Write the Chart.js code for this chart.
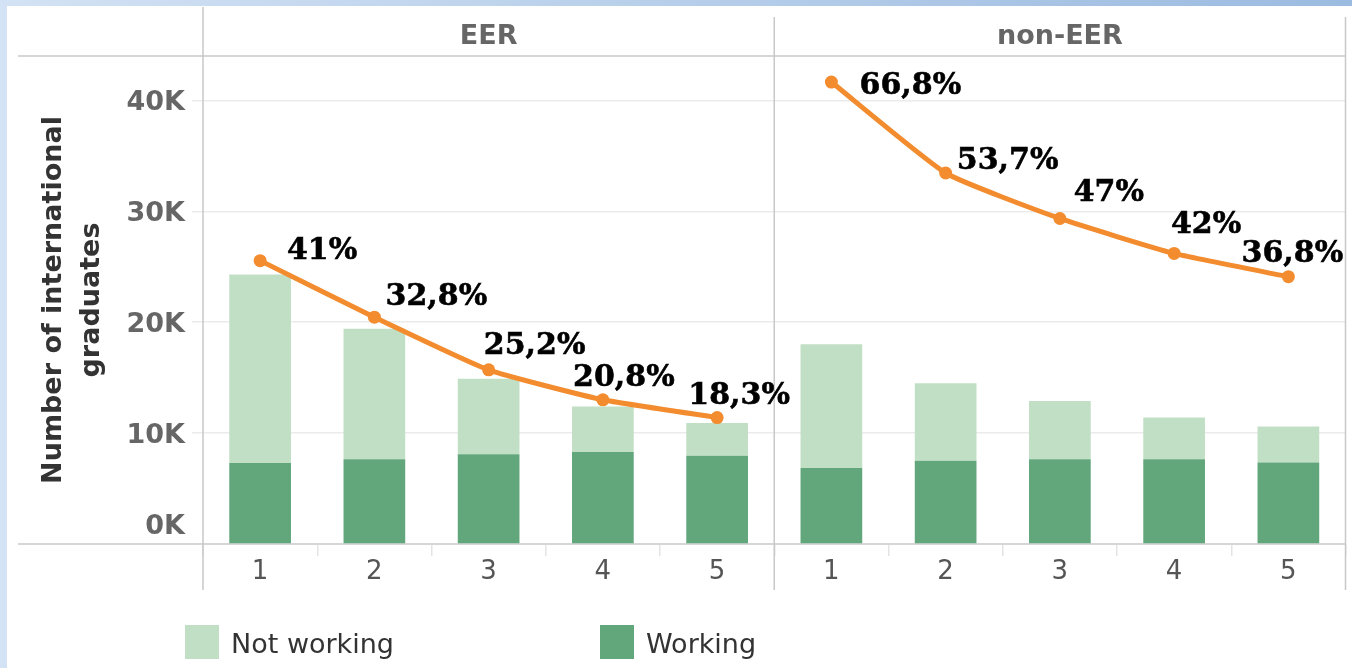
<!DOCTYPE html>
<html>
<head>
<meta charset="utf-8">
<script src="https://cdn.jsdelivr.net/npm/chart.js@4.4.0/dist/chart.umd.min.js"></script>
<style>
  html, body { margin: 0; padding: 0; }
  body {
    width: 1352px; height: 668px; overflow: hidden; position: relative;
    background: linear-gradient(to right, #d3e2f4, #9bbbe0);
  }
  #wrap { position: absolute; left: 7px; top: 6px; width: 1345px; height: 662px; background: #fff; }
</style>
</head>
<body>
<div id="wrap"><canvas id="graph" width="1345" height="662"></canvas></div>
<script>
var panels = ["EER", "non-EER"];
var years = ["1", "2", "3", "4", "5"];
var yTicks = [0, 10000, 20000, 30000, 40000];
var workingEER = [7300, 7650, 8100, 8300, 7950];
var notWorkingEER = [17000, 11750, 6800, 4100, 2950];
var workingNonEER = [6850, 7500, 7650, 7650, 7350];
var notWorkingNonEER = [11150, 7000, 5250, 3750, 3250];
var lineEER = [25550, 20450, 15700, 13000, 11400];
var lineNonEER = [41650, 33450, 29350, 26200, 24100];
var shareEER = ["41%", "32,8%", "25,2%", "20,8%", "18,3%"];
var shareNonEER = ["66,8%", "53,7%", "47%", "42%", "36,8%"];

// nudges for the % labels (label centre relative to its point), per panel
var labelShift = [
  [[62, -13], [62, -23], [46, -27], [21, -25], [22, -25]],
  [[79, 1], [62, -15], [49, -28], [32, -31], [4, -26]]
];

var lightGreen = "#c1dfc5";
var darkGreen = "#62a67b";
var orange = "#f28c2e";
var gap = [null, null, null, null, null];

Chart.defaults.font.family = "'DejaVu Sans', Verdana, sans-serif";

function kLabel(v) { return (v / 1000) + "K"; }

var framePlugin = {
  id: "frame",
  beforeDatasetsDraw: function (chart) {
    var ctx = chart.ctx, area = chart.chartArea, x = chart.scales.x, y = chart.scales.y;
    var split = (x.getPixelForValue(4) + x.getPixelForValue(5)) / 2;
    ctx.save();
    ctx.strokeStyle = "#d6d6d6";
    ctx.lineWidth = 2;
    ctx.beginPath();
    ctx.moveTo(11, area.top); ctx.lineTo(area.right, area.top);
    ctx.moveTo(11, area.bottom); ctx.lineTo(area.right, area.bottom);
    ctx.stroke();
    ctx.strokeStyle = "#c8c8c8";
    ctx.lineWidth = 1.5;
    ctx.beginPath();
    ctx.moveTo(area.left, 1); ctx.lineTo(area.left, area.bottom + 46);
    ctx.moveTo(split, 11); ctx.lineTo(split, area.bottom + 46);
    ctx.moveTo(area.right, 11); ctx.lineTo(area.right, area.bottom + 46);
    ctx.stroke();
    ctx.fillStyle = "#666";
    ctx.font = "bold 27px 'DejaVu Sans'";
    ctx.textAlign = "center";
    ctx.textBaseline = "alphabetic";
    ctx.fillText(panels[0], (area.left + split) / 2, area.top - 12);
    ctx.fillText(panels[1], (split + area.right) / 2, area.top - 12);
    // the zero label sits above the axis line
    ctx.textAlign = "right";
    ctx.textBaseline = "middle";
    ctx.fillText(kLabel(yTicks[0]), area.left - 18, y.getPixelForValue(yTicks[0]) - 17);
    ctx.restore();
  },
  afterDatasetsDraw: function (chart) {
    var ctx = chart.ctx;
    ctx.save();
    ctx.font = "bold 30px 'DejaVu Serif'";
    ctx.fillStyle = "#000";
    ctx.strokeStyle = "#000";
    ctx.lineWidth = 0.6;
    ctx.textAlign = "center";
    ctx.textBaseline = "alphabetic";
    [[2, shareEER], [3, shareNonEER]].forEach(function (pair, p) {
      var meta = chart.getDatasetMeta(pair[0]);
      var values = chart.data.datasets[pair[0]].data;
      var k = 0;
      meta.data.forEach(function (pt, i) {
        if (values[i] === null) return;
        var txt = pair[1][k];
        var sx = pt.x + labelShift[p][k][0], sy = pt.y + labelShift[p][k][1] + 11;
        ctx.fillText(txt, sx, sy);
        ctx.strokeText(txt, sx, sy);
        k++;
      });
    });
    ctx.restore();
  },
  afterDraw: function (chart) {
    var ctx = chart.ctx;
    var items = [
      { label: chart.data.datasets[1].label, color: chart.data.datasets[1].backgroundColor, x: 178 },
      { label: chart.data.datasets[0].label, color: chart.data.datasets[0].backgroundColor, x: 593 }
    ];
    ctx.save();
    ctx.font = "27px 'DejaVu Sans'";
    ctx.textBaseline = "alphabetic";
    ctx.textAlign = "left";
    items.forEach(function (it) {
      ctx.fillStyle = it.color;
      ctx.fillRect(it.x, 619, 34, 34);
      ctx.fillStyle = "#333";
      ctx.fillText(it.label, it.x + 46, 647);
    });
    ctx.restore();
  }
};

function shareLine(label, values) {
  return {
    type: "line",
    label: label,
    data: values,
    yAxisID: "y2",
    borderColor: orange,
    backgroundColor: orange,
    borderWidth: 5,
    pointRadius: 6.5,
    pointBorderWidth: 0,
    pointBackgroundColor: orange,
    tension: 0.15,
    spanGaps: false,
    order: 0
  };
}

var data = {
  labels: years.concat(years),
  datasets: [{
    type: "bar",
    label: "Working",
    data: workingEER.concat(workingNonEER),
    backgroundColor: darkGreen,
    stack: "g",
    order: 1
  }, {
    type: "bar",
    label: "Not working",
    data: notWorkingEER.concat(notWorkingNonEER),
    backgroundColor: lightGreen,
    stack: "g",
    order: 1
  },
  shareLine("EER share", lineEER.concat(gap)),
  shareLine("non-EER share", gap.concat(lineNonEER))]
};

var config = {
  type: "bar",
  data: data,
  plugins: [framePlugin],
  options: {
    responsive: false,
    animation: false,
    layout: { padding: { top: 50, right: 4, left: 0, bottom: 0 } },
    datasets: { bar: { barPercentage: 0.54, categoryPercentage: 1.0 } },
    plugins: {
      legend: { display: false },
      tooltip: { enabled: false }
    },
    scales: {
      x: {
        stacked: true,
        offset: true,
        border: { display: false },
        grid: { drawOnChartArea: false, drawTicks: true, tickLength: 12, tickColor: "#e4e4e4", lineWidth: 1.5 },
        ticks: { color: "#555", padding: 1, font: { size: 26 } },
        afterFit: function (s) { s.height = 124; }
      },
      y: {
        stacked: true,
        min: 0,
        max: 44000,
        border: { display: false },
        grid: { color: "#ebebeb", lineWidth: 1.5, tickLength: 11, tickColor: "#ebebeb" },
        ticks: {
          padding: 7,
          labelOffset: 3,
          color: "#666",
          font: { size: 27, weight: "bold" },
          callback: function (v) { return v === yTicks[0] ? "" : kLabel(v); }
        },
        afterBuildTicks: function (s) {
          s.ticks = yTicks.map(function (v) { return { value: v }; });
        },
        afterFit: function (s) { s.width = 196; },
        title: {
          display: true,
          text: ["Number of international", "graduates"],
          color: "#333",
          font: { size: 27, weight: "bold", lineHeight: 1.4 },
          padding: { top: 28, bottom: 0 }
        }
      },
      // same range as y, but not stacked, so the line is not added onto the bars
      y2: {
        display: false,
        min: 0,
        max: 44000
      }
    }
  }
};

new Chart(document.getElementById("graph"), config);
</script>
</body>
</html>
